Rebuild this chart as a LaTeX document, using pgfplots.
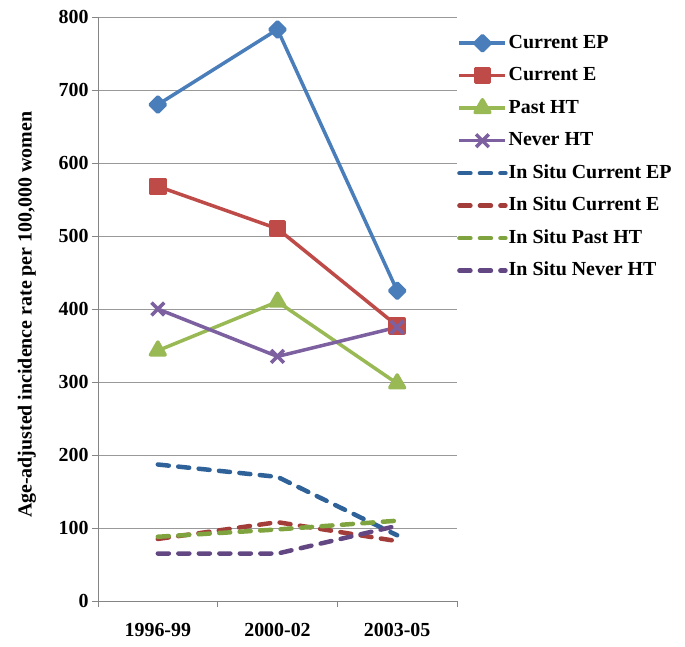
\documentclass[border=0pt]{standalone}
\usepackage{pgfplots}
\pgfplotsset{compat=1.18}
\usepackage{fontspec}
\setmainfont{Liberation Serif}
\definecolor{cEP}{HTML}{4A7EBB}
\definecolor{cE}{HTML}{BE4B48}
\definecolor{cP}{HTML}{98B954}
\definecolor{cN}{HTML}{7D60A0}
\definecolor{dEP}{HTML}{2F6299}
\definecolor{dE}{HTML}{A33D3A}
\definecolor{dP}{HTML}{7FA33F}
\definecolor{dN}{HTML}{634782}
\begin{document}
\begin{tikzpicture}
\useasboundingbox (-98bp,-46bp) rectangle (587bp,601bp);
\begin{axis}[
  scale only axis,
  width=359bp, height=584bp,
  xmin=0.5, xmax=3.5, ymin=0, ymax=800,
  axis lines=left,
  axis line style={draw=black!48, line width=0.8bp, -},
  xtick={0.5,1.5,2.5,3.5},
  xticklabels={1996-99,2000-02,2003-05},
  x tick label as interval,
  ytick={0,100,...,800},
  tick align=outside,
  major tick length=6bp,
  tick style={draw=black!48, line width=0.8bp},
  ymajorgrids,
  grid style={draw=black!40, line width=0.8bp},
  /pgf/number format/assume math mode=true,
  tick label style={font=\fontsize{20}{24}\selectfont\bfseries},
  xticklabel style={yshift=-13bp},
  ylabel={Age-adjusted incidence rate per 100,000 women},
  ylabel style={font=\fontsize{20}{24}\selectfont\bfseries, at={(axis description cs:-0.198,0.49)}, anchor=center, rotate=0},
  legend style={draw=none, fill=none, at={(axis description cs:1,1)}, anchor=north west, yshift=-16bp,
    font=\fontsize{20}{24}\selectfont\bfseries, inner sep=0pt, row sep=12.5bp,
    nodes={text height=14bp, text depth=4bp, inner sep=1bp}},
  legend cell align=left,
  legend image code/.code={\draw[mark repeat=2,mark phase=2] plot coordinates {(0bp,0bp) (23bp,0bp) (46bp,0bp)};},
  every axis plot/.append style={line width=3.5bp, line join=round},
  clip=false,
]
\addplot[cEP, mark=square*, mark size=5.4bp, mark options={solid, rotate=45}] coordinates {(1,680) (2,783) (3,425)};
\addlegendentry{Current EP}
\addplot[cE, mark=square*, mark size=7bp, mark options={solid}] coordinates {(1,568) (2,510) (3,377)};
\addlegendentry{Current E}
\addplot[cP, mark=triangle*, mark size=8.5bp, mark options={solid}] coordinates {(1,343) (2,410) (3,298)};
\addlegendentry{Past HT}
\addplot[cN, mark=x, mark size=9bp, mark options={solid, line width=3.5bp}] coordinates {(1,400) (2,335) (3,375)};
\addlegendentry{Never HT}
\addplot[dEP, line width=4.5bp, line cap=round, dash pattern=on 11bp off 9.5bp] coordinates {(1,187) (2,170) (3,90)};
\addlegendentry{In Situ Current EP}
\addplot[dE, line width=4.5bp, line cap=round, dash pattern=on 11bp off 9.5bp] coordinates {(1,85) (2,108) (3,82)};
\addlegendentry{In Situ Current E}
\addplot[dP, line width=4.5bp, line cap=round, dash pattern=on 11bp off 9.5bp] coordinates {(1,88) (2,98) (3,110)};
\addlegendentry{In Situ Past HT}
\addplot[dN, line width=4.5bp, line cap=round, dash pattern=on 11bp off 9.5bp] coordinates {(1,65) (2,65) (3,103)};
\addlegendentry{In Situ Never HT}
\end{axis}
\end{tikzpicture}
\end{document}
